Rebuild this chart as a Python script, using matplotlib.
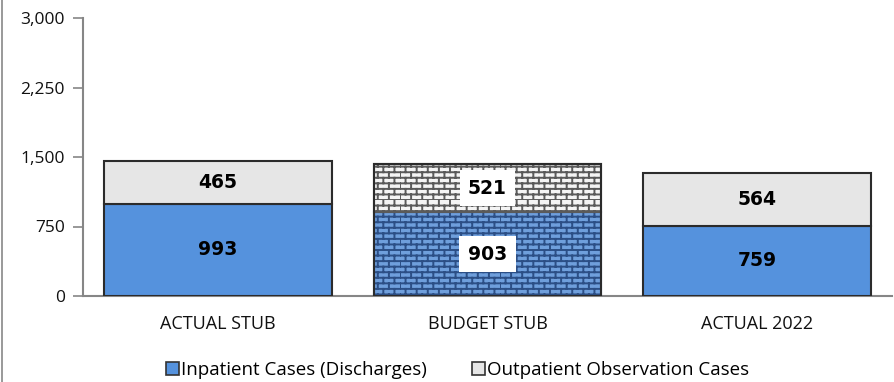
import warnings
import numpy as np
import matplotlib
matplotlib.use("Agg")
import matplotlib.pyplot as plt
from matplotlib import hatch as mhatch
from matplotlib.path import Path
from matplotlib.patches import Patch
from matplotlib.lines import Line2D

warnings.filterwarnings("ignore")

categories = ["ACTUAL STUB", "BUDGET STUB", "ACTUAL 2022"]
inpatient = [993, 903, 759]
outpatient = [465, 521, 564]
series_names = ["Inpatient Cases (Discharges)", "Outpatient Observation Cases"]
yticks = [0, 750, 1500, 2250, 3000]


class BrickHatch(mhatch.HatchPatternBase):
    def __init__(self, hatch, density):
        self.rows = int(hatch.count('b') * density)
        self.nb = max(self.rows // 2, 1)
        self.num_vertices = 2 * self.rows + 2 * self.rows * self.nb

    def set_vertices_and_codes(self, vertices, codes):
        n = self.rows
        ys = np.arange(n) / n
        vertices[0:2 * n:2, 0] = 0.0
        vertices[0:2 * n:2, 1] = ys
        vertices[1:2 * n:2, 0] = 1.0
        vertices[1:2 * n:2, 1] = ys
        codes[0:2 * n:2] = Path.MOVETO
        codes[1:2 * n:2] = Path.LINETO
        k = 2 * n
        for i in range(n):
            off = 0.5 * (i % 2)
            for j in range(self.nb):
                x = ((j + off) / self.nb) % 1.0
                vertices[k] = (x, ys[i])
                vertices[k + 1] = (x, ys[i] + 1.0 / n)
                codes[k] = Path.MOVETO
                codes[k + 1] = Path.LINETO
                k += 2


mhatch._hatch_types.append(BrickHatch)

plt.rcParams['hatch.linewidth'] = 1.4
plt.rcParams['font.family'] = ['Open Sans', 'DejaVu Sans']

fig = plt.figure(figsize=(8.94, 3.82), dpi=100)
ax = fig.add_axes([83 / 894, 86 / 382, (892 - 83) / 894, 278 / 382])

x = np.arange(len(categories))
w = 0.845
blue = '#5592dd'
gray = '#e6e6e6'
edge = '#2b2b2b'

for i in range(len(categories)):
    if i == 1:
        ax.bar(x[i], inpatient[i], w, color='#6f9fdc', edgecolor='#2c4f86',
               hatch='bbb', linewidth=1.5, zorder=3)
        ax.bar(x[i], outpatient[i], w, bottom=inpatient[i], color='#f4f4f4',
               edgecolor='#5a5a5a', hatch='bbb', linewidth=1.5, zorder=3)
        ax.bar(x[i], inpatient[i] + outpatient[i], w, fill=False,
               edgecolor=edge, linewidth=1.5, zorder=4)
        box = dict(boxstyle='square,pad=0.45', fc='white', ec='none')
    else:
        ax.bar(x[i], inpatient[i], w, color=blue, edgecolor=edge,
               linewidth=1.5, zorder=3)
        ax.bar(x[i], outpatient[i], w, bottom=inpatient[i], color=gray,
               edgecolor=edge, linewidth=1.5, zorder=3)
        box = None
    ax.text(x[i], inpatient[i] / 2, f"{inpatient[i]:,}", ha='center',
            va='center', fontsize=13.5, fontweight='bold',
            family='DejaVu Sans', bbox=box, zorder=5)
    ax.text(x[i], inpatient[i] + outpatient[i] / 2, f"{outpatient[i]:,}",
            ha='center', va='center', fontsize=13.5, fontweight='bold',
            family='DejaVu Sans', bbox=box, zorder=5)

ax.set_xlim(-0.5, 2.5)
ax.set_ylim(0, 3000)
ax.set_yticks(yticks)
ax.set_yticklabels([f"{v:,}" for v in yticks])
ax.set_xticks(x)
ax.set_xticklabels(categories)
for s in ['top', 'right']:
    ax.spines[s].set_visible(False)
for s in ['left', 'bottom']:
    ax.spines[s].set_color('#868686')
    ax.spines[s].set_linewidth(1.5)
ax.tick_params(axis='y', length=7, width=1.2, color='#868686',
               labelsize=12.5, pad=6, labelcolor='#111111')
ax.tick_params(axis='x', length=0, labelsize=13, pad=14,
               labelcolor='#111111')

handles = [Patch(facecolor=blue, edgecolor='#333333', linewidth=1.2),
           Patch(facecolor=gray, edgecolor='#333333', linewidth=1.2)]
fig.legend(handles, series_names, loc='center', bbox_to_anchor=(0.512, 1 - 370 / 382),
           ncol=2, frameon=False, fontsize=13.5, handlelength=0.7,
           handleheight=0.7, handletextpad=0.1, columnspacing=2.4)

fig.add_artist(Line2D([2 / 894, 2 / 894], [0, 1], color='#888888',
                      linewidth=1.2, transform=fig.transFigure))

fig.savefig('out.png', dpi=100)
